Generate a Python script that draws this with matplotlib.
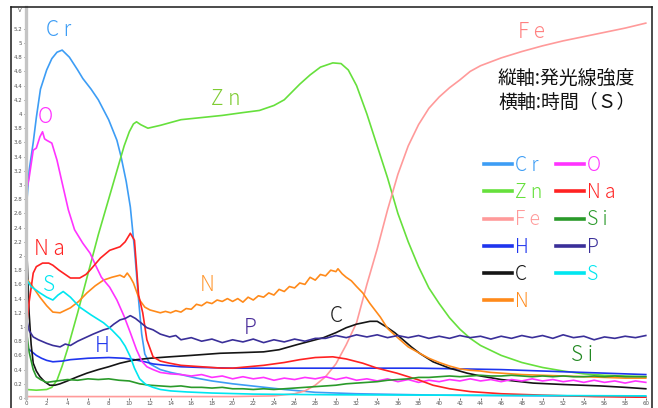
import matplotlib
matplotlib.use("Agg")
import matplotlib.pyplot as plt
from matplotlib.lines import Line2D
from matplotlib.ticker import FuncFormatter

# ---------------- data ----------------
cr_t = [0, 0.3, 0.7, 1.0, 1.4, 2.0, 2.5, 3.0, 3.5, 4.2, 5.0, 5.5, 6.3, 7.0, 8.0, 8.8, 9.2, 9.7, 10.1, 10.5,
        10.9, 11.2, 11.5, 12.0, 13, 14, 15, 16.5, 18, 20, 22.5, 25, 28, 32, 36, 40, 45, 50, 55, 60]
cr_v = [2.6, 3.2, 3.6, 3.95, 4.35, 4.62, 4.78, 4.87, 4.9, 4.8, 4.62, 4.5, 4.35, 4.2, 3.92, 3.63, 3.4, 3.05, 2.69, 2.1,
        1.38, 0.9, 0.62, 0.48, 0.4, 0.36, 0.33, 0.28, 0.24, 0.2, 0.16, 0.12, 0.08, 0.06, 0.05, 0.04, 0.035, 0.03, 0.03, 0.02]

zn_t = [0, 1, 2, 2.5, 3, 3.5, 4, 5, 6, 7, 8, 9, 9.5, 10, 10.4, 10.7, 11.1, 11.8, 13, 15, 17, 19, 21, 22.6, 24, 25,
        26.5, 27.5, 28.5, 29.7, 30.5, 31.2, 32, 33, 34, 35, 36, 37, 38, 39, 40, 41, 42, 43, 44, 46, 48, 50, 52, 54,
        56, 58, 60]
zn_v = [0.12, 0.11, 0.12, 0.15, 0.25, 0.45, 0.68, 1.2, 1.75, 2.3, 2.8, 3.3, 3.55, 3.75, 3.86, 3.89, 3.85, 3.8, 3.84,
        3.92, 3.95, 3.98, 4.02, 4.05, 4.12, 4.2, 4.42, 4.55, 4.66, 4.72, 4.71, 4.62, 4.4, 4.0, 3.55, 3.1, 2.6, 2.2,
        1.85, 1.55, 1.33, 1.13, 0.97, 0.84, 0.74, 0.6, 0.5, 0.43, 0.38, 0.34, 0.32, 0.31, 0.30]

fe_t = [0, 10, 20, 24, 26, 27, 28, 29, 30, 31, 32, 33, 34, 35, 36, 37, 38, 39, 40, 41, 42, 43, 44, 46, 48, 50, 52,
        54, 56, 58, 60]
fe_v = [0.02, 0.02, 0.02, 0.03, 0.06, 0.1, 0.18, 0.3, 0.48, 0.75, 1.06, 1.6, 2.1, 2.65, 3.15, 3.55, 3.85, 4.08,
        4.24, 4.37, 4.48, 4.6, 4.68, 4.79, 4.88, 4.96, 5.03, 5.09, 5.15, 5.21, 5.28]

o_t = [0, 0.3, 0.7, 1.0, 1.35, 1.6, 1.8, 2.0, 2.5, 3.0, 3.5, 4.1, 4.7, 5.5, 6.2, 6.8, 7.3, 8.1, 8.8, 9.5, 10.1,
       10.7, 11.2, 11.7, 12.3,
       13, 14, 15, 16, 17, 18, 19, 20, 21, 22, 23, 24, 25, 26, 27, 28, 29, 30, 31, 32, 33, 34, 35, 36, 37, 38, 39,
       40, 41, 42, 43, 44, 45, 46, 47, 48, 49, 50, 51, 52, 53, 54, 55, 56, 57, 58, 59, 60]
o_v = [2.88, 3.1, 3.49, 3.52, 3.68, 3.75, 3.65, 3.63, 3.59, 3.35, 3.03, 2.65, 2.37, 2.18, 2.04, 1.85, 1.7, 1.56,
       1.38, 1.15, 0.92, 0.68, 0.52, 0.44, 0.4,
       0.36, 0.34, 0.33, 0.31, 0.33, 0.29, 0.31, 0.27, 0.3, 0.27, 0.29, 0.25, 0.28, 0.26, 0.29, 0.27, 0.3, 0.26,
       0.29, 0.25, 0.27, 0.24, 0.27, 0.23, 0.26, 0.22, 0.25, 0.23, 0.26, 0.24, 0.27, 0.24, 0.26, 0.23, 0.26, 0.24,
       0.27, 0.24, 0.26, 0.23, 0.25, 0.22, 0.25, 0.22, 0.24, 0.21, 0.24, 0.22]

na_t = [0, 0.3, 0.7, 1.0, 1.6, 2.2, 2.6, 3.2, 3.6, 4.3, 5.2, 5.8, 6.2, 7.2, 8.1, 9.1, 9.6, 10.1, 10.5, 10.9, 11.3,
        11.7, 12.3, 13, 13.9, 15, 17, 19, 20, 21.5, 23, 25, 26.5, 28, 29.7, 31, 32.6, 34, 35.9, 37, 38.1, 39.4, 41,
        43, 46, 50, 55, 60]
na_v = [0.95, 1.35, 1.76, 1.85, 1.9, 1.9, 1.87, 1.8, 1.76, 1.69, 1.69, 1.74, 1.8, 1.97, 2.08, 2.13, 2.2, 2.32, 2.22,
        1.45, 1.2, 0.82, 0.58, 0.52, 0.49, 0.46, 0.44, 0.42, 0.42, 0.44, 0.46, 0.5, 0.54, 0.57, 0.58, 0.55, 0.49,
        0.42, 0.35, 0.3, 0.25, 0.18, 0.13, 0.09, 0.06, 0.04, 0.02, 0.01]

si_t = [0, 0.3, 0.7, 1.0, 1.4, 2, 3, 4, 5, 6, 7, 8, 9, 10, 11, 12, 13, 14, 15, 16, 17, 18, 19, 20, 21, 22, 23, 24,
        25, 26, 27, 28, 29, 30, 31, 32, 33, 34, 35, 36, 37, 38, 39, 40, 41, 42, 43, 44, 45, 46, 47, 48, 49, 50, 51,
        52, 53, 54, 55, 56, 57, 58, 59, 60]
si_v = [1.0, 0.65, 0.4, 0.3, 0.26, 0.22, 0.24, 0.26, 0.25, 0.27, 0.26, 0.27, 0.25, 0.24, 0.2, 0.18, 0.17, 0.16,
        0.17, 0.15, 0.15, 0.14, 0.15, 0.13, 0.13, 0.12, 0.13, 0.12, 0.13, 0.14, 0.15, 0.16, 0.17, 0.18, 0.2, 0.21,
        0.22, 0.23, 0.25, 0.26, 0.27, 0.29, 0.29, 0.3, 0.31, 0.3, 0.31, 0.32, 0.31, 0.31, 0.32, 0.31, 0.3, 0.31,
        0.3, 0.31, 0.3, 0.3, 0.31, 0.3, 0.31, 0.3, 0.3, 0.3]

h_t = [0, 0.5, 1, 1.5, 2, 2.6, 3.5, 4.3, 6, 8, 9.5, 10.5, 11.5, 12.3, 13.5, 15, 17, 20, 25, 30, 35, 38, 42, 46, 50,
       54, 58, 60]
h_v = [0.72, 0.66, 0.6, 0.56, 0.53, 0.51, 0.52, 0.54, 0.56, 0.57, 0.56, 0.54, 0.51, 0.48, 0.46, 0.44, 0.43, 0.42,
       0.42, 0.42, 0.42, 0.42, 0.41, 0.4, 0.38, 0.36, 0.34, 0.33]

c_t = [0, 0.15, 0.3, 0.5, 0.7, 1.0, 1.35, 1.8, 2.3, 2.8, 3.3, 4, 5, 5.9, 7, 8, 9.1, 10, 10.7, 12, 13.9, 16, 18.8, 21,
       23, 24.5, 26.2, 27.5, 28.8, 30, 31, 32, 33.3, 34, 34.9, 35.7, 36.5, 37.3, 38.1, 39.4, 41, 42.7, 44, 46, 49.1,
       52, 55.6, 58, 60]
c_v = [2.35, 1.8, 1.2, 0.75, 0.49, 0.38, 0.3, 0.23, 0.18, 0.18, 0.2, 0.24, 0.3, 0.35, 0.4, 0.44, 0.49, 0.52, 0.54,
       0.56, 0.58, 0.6, 0.63, 0.64, 0.65, 0.68, 0.75, 0.8, 0.85, 0.92, 0.99, 1.04, 1.08, 1.08, 1.0, 0.92, 0.82, 0.72,
       0.63, 0.51, 0.42, 0.35, 0.31, 0.26, 0.21, 0.19, 0.17, 0.15, 0.13]

n_t = [0, 0.5, 1.35, 2, 2.6, 3.3, 4.3, 5.1, 5.9, 6.7, 7.5, 8.3, 9.1, 9.5, 9.8, 10.1, 10.4, 10.7, 11, 11.5, 12, 12.5,
       13, 13.5, 14, 14.5, 15, 15.5, 16, 16.5, 17, 17.5, 18, 18.5, 19, 19.5, 20, 20.5, 21, 21.5, 22, 22.5, 23, 23.5,
       24, 24.5, 25, 25.5, 26, 26.5, 27, 27.5, 28, 28.5, 29, 29.5, 30, 30.2, 30.6, 31, 31.5, 32, 32.6, 33.3, 34.3,
       35, 35.9, 37, 38.1, 39, 40, 41, 42, 43, 44, 45, 46, 48, 50, 52, 54, 56, 58, 60]
n_v = [1.69, 1.6, 1.42, 1.3, 1.21, 1.2, 1.27, 1.36, 1.48, 1.58, 1.66, 1.7, 1.73, 1.7, 1.76, 1.7, 1.62, 1.5, 1.38,
       1.28, 1.24, 1.22, 1.2, 1.22, 1.2, 1.23, 1.21, 1.26, 1.25, 1.32, 1.3, 1.35, 1.33, 1.38, 1.36, 1.4, 1.36, 1.4,
       1.35, 1.42, 1.38, 1.44, 1.42, 1.48, 1.45, 1.53, 1.5, 1.57, 1.55, 1.62, 1.6, 1.7, 1.66, 1.74, 1.72, 1.8, 1.78,
       1.82, 1.75, 1.7, 1.65, 1.57, 1.48, 1.33, 1.14, 0.98, 0.86, 0.72, 0.63, 0.56, 0.5, 0.45, 0.41, 0.39, 0.38,
       0.36, 0.35, 0.33, 0.32, 0.31, 0.3, 0.29, 0.28, 0.28]

p_t = [0, 0.3, 0.7, 1.2, 2, 2.6, 3.3, 3.8, 4.3, 5, 5.9, 6.5, 7.5, 8, 8.5, 9.1, 9.6, 10.1, 10.6, 11.2, 11.7, 12.3,
       13, 13.9, 14.5, 15, 16, 17, 18, 19, 20, 21, 22, 23, 24, 25, 26, 27, 28, 29, 30, 31, 32, 33, 34, 35, 36, 37,
       38, 39, 40, 41, 42, 43, 44, 45, 46, 47, 48, 49, 50, 51, 52, 53, 54, 55, 56, 57, 58, 59, 60]
p_v = [1.15, 0.95, 0.86, 0.82, 0.77, 0.74, 0.72, 0.76, 0.74, 0.8, 0.86, 0.9, 0.96, 0.98, 1.04, 1.1, 1.12, 1.16,
       1.12, 1.05, 0.99, 0.96, 0.9, 0.86, 0.88, 0.82, 0.85, 0.8, 0.83, 0.78, 0.82, 0.79, 0.83, 0.78, 0.82, 0.79,
       0.83, 0.8, 0.84, 0.84, 0.88, 0.85, 0.89, 0.86, 0.89, 0.85, 0.88, 0.85, 0.88, 0.84, 0.87, 0.84, 0.88, 0.85,
       0.87, 0.83, 0.87, 0.84, 0.88, 0.85, 0.88, 0.84, 0.89, 0.85, 0.87, 0.82, 0.86, 0.84, 0.87, 0.85, 0.88]

s_t = [0, 0.5, 1.35, 2, 2.6, 3.1, 3.6, 4.3, 5.2, 6.3, 7.5, 8.3, 9.1, 9.6, 10.1, 10.5, 11, 11.6, 12.3, 13, 14, 15.6,
       18, 22, 26, 30, 40, 50, 60]
s_v = [1.68, 1.57, 1.48, 1.42, 1.38, 1.45, 1.5, 1.42, 1.28, 1.17, 1.06, 0.96, 0.84, 0.73, 0.58, 0.42, 0.27, 0.19,
       0.15, 0.12, 0.1, 0.085, 0.07, 0.055, 0.05, 0.045, 0.04, 0.035, 0.03]

series_names = ["C r", "Z n", "F e", "H", "C", "N", "O", "N a", "S i", "P", "S"]
series_colors = ["#3d9df5", "#66e03c", "#ff9a9a", "#1f35ee", "#151515", "#ff8a1a",
                 "#ff33ff", "#ff2222", "#2a9a2a", "#3a2f99", "#00e6f0"]
series_data = [(cr_t, cr_v), (zn_t, zn_v), (fe_t, fe_v), (h_t, h_v), (c_t, c_v), (n_t, n_v),
               (o_t, o_v), (na_t, na_v), (si_t, si_v), (p_t, p_v), (s_t, s_v)]

# in-plot element labels: (text, t, value, colour)
label_names = ["C r", "O", "N a", "S", "H", "Z n", "N", "P", "C", "F e", "S i"]
label_t = [3.2, 1.9, 2.3, 2.2, 7.4, 19.3, 17.5, 21.7, 30.0, 48.9, 53.8]
label_v = [5.18, 3.96, 2.1, 1.59, 0.73, 4.21, 1.59, 0.99, 1.15, 5.16, 0.6]
label_colors = ["#3d9df5", "#ff33ff", "#ff2222", "#00e6f0", "#1f35ee", "#7fcc33",
                "#ff9933", "#4a2d9a", "#222222", "#ff8080", "#228822"]

y_ticks = [round(0.2 * i, 1) for i in range(27)]
x_ticks = list(range(0, 61, 2))

# ---------------- figure ----------------
W, H = 658, 408
fig = plt.figure(figsize=(W / 100, H / 100), dpi=100)
fig.patch.set_facecolor("white")

def fx(px):
    return px / W

def fy(py):
    return 1 - py / H

ax_left, ax_right, ax_top, ax_bottom = 26, 652, 7, 398
ax = fig.add_axes([fx(ax_left), fy(ax_bottom), fx(ax_right - ax_left), (ax_bottom - ax_top) / H])
px_per_t = 10.33
px_per_v = 71.0
ax.set_xlim(0, (ax_right - ax_left) / px_per_t)
ax.set_ylim(0, (ax_bottom - ax_top) / px_per_v)

for (t, v), name, col in zip(series_data, series_names, series_colors):
    ax.plot(t, v, color=col, lw=1.2, label=name, solid_joinstyle="round")

lab_font = ["Noto Sans CJK JP", "DejaVu Sans"]
for txt, t, v, col in zip(label_names, label_t, label_v, label_colors):
    ax.text(t, v, txt, color=col, fontsize=15, family=lab_font, fontweight="light",
            ha="center", va="center")

# spines
for s in ["top", "right", "bottom"]:
    ax.spines[s].set_visible(False)
ax.spines["left"].set_color("#c4c4c4")
ax.spines["left"].set_linewidth(2.4)

ax.set_yticks(y_ticks)
ax.yaxis.set_major_formatter(FuncFormatter(lambda v, p: f"{v:g}"))
ax.set_xticks(x_ticks)
ax.tick_params(axis="both", labelsize=4, colors="#555555", length=1.5, width=0.6, pad=1)

fig.text(fx(20), fy(10), "V", fontsize=4, color="#555555", ha="center", va="center")

# legend
leg = ax.legend(ncol=2, loc="upper left", bbox_to_anchor=(fx(484), fy(155)),
                bbox_transform=fig.transFigure, frameon=False,
                handlelength=1.45, handletextpad=0.15, columnspacing=0.7,
                labelspacing=0.32, borderpad=0, borderaxespad=0,
                prop={"family": lab_font, "weight": "light", "size": 14},
                labelcolor="linecolor")
for lh in leg.get_lines():
    lh.set_linewidth(2.6)

# annotation
fig.text(fx(498), fy(78), "縦軸:発光線強度", fontsize=13.6, family=lab_font,
         color="#111111", ha="left", va="center")
fig.text(fx(498), fy(102), "横軸:時間（Ｓ）", fontsize=13.6, family=lab_font,
         color="#111111", ha="left", va="center")

# outer frame
frame_col = "#1a1a1a"
fig.add_artist(Line2D([fx(11), fx(11)], [fy(7), 0], color=frame_col, lw=1.1, transform=fig.transFigure))
fig.add_artist(Line2D([fx(11), fx(652)], [fy(7), fy(7)], color=frame_col, lw=1.1, transform=fig.transFigure))
fig.add_artist(Line2D([fx(652), fx(652)], [fy(7), 0], color=frame_col, lw=1.1, transform=fig.transFigure))

fig.savefig("out.png", dpi=100)
